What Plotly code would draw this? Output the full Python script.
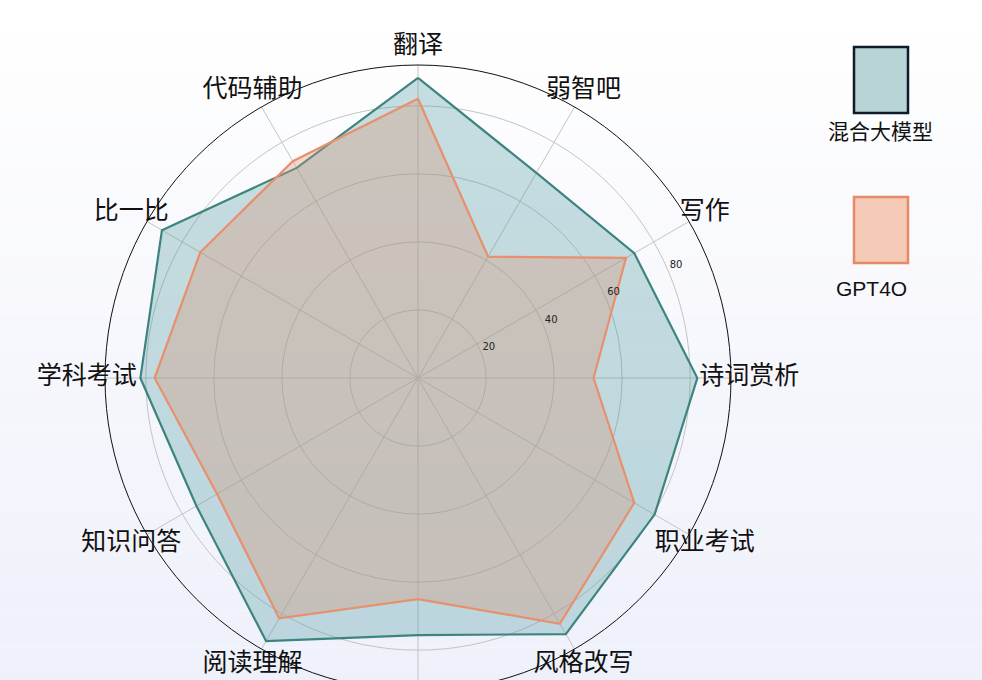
import plotly.graph_objects as go

# categories run clockwise from the top; the bottom one is cut off in the picture
categories = ['翻译', '弱智吧', '写作', '诗词赏析', '职业考试', '风格改写',
              '逻辑推理', '阅读理解', '知识问答', '学科考试', '比一比', '代码辅助']
mixed_model = [88.2, 69.6, 73.4, 82.1, 80.3, 86.9, 75.6, 89.3, 75.2, 81.6, 86.9, 71.3]
gpt4o = [82.1, 41.2, 70.6, 51.6, 73.4, 83.4, 65.0, 81.6, 68.2, 77.4, 73.9, 73.6]
series_names = ['混合大模型', 'GPT4O']
radial_ticks = [20, 40, 60, 80]

W, H = 982, 740
FONT = 'Noto Sans CJK SC'
R_MAX = 92

n = len(categories)
angles = [i * 360 / n for i in range(n)]

cx, cy, rad = 418, 378, 313     # rim of the chart, in pixels
rad_lbl = 350                   # wider, invisible polar that carries the labels


def px_x(x):
    return x / W


def px_y(y):
    return 1 - y / H


def domain(r):
    return dict(x=[px_x(cx - r), px_x(cx + r)], y=[px_y(cy + r), px_y(cy - r)])


fig = go.Figure()

# close the polygons
theta = angles + angles[:1]
fig.add_trace(go.Scatterpolar(
    r=mixed_model + mixed_model[:1], theta=theta,
    fill='toself', fillcolor='rgba(70,150,155,0.3)',
    line=dict(color='#3d847f', width=2.2),
    mode='lines', name=series_names[0], showlegend=False,
))
fig.add_trace(go.Scatterpolar(
    r=gpt4o + gpt4o[:1], theta=theta,
    fill='toself', fillcolor='rgba(215,150,120,0.35)',
    line=dict(color='#e8906c', width=2.2),
    mode='lines', name=series_names[1], showlegend=False,
))
# radial tick labels, upright, at ~23.5 deg above the right spoke
fig.add_trace(go.Scatterpolar(
    r=[v + 2.7 for v in radial_ticks], theta=[66.5] * len(radial_ticks),
    text=[str(v) for v in radial_ticks],
    mode='text', textposition='middle center',
    textfont=dict(family='DejaVu Sans', size=10, color='#222222'),
    hoverinfo='skip', showlegend=False,
))
# category labels, centred a little outside the rim (like matplotlib)
fig.add_trace(go.Scatterpolar(
    r=[R_MAX * 1.058] * n, theta=angles, text=categories,
    mode='text', textposition='middle center', subplot='polar2',
    textfont=dict(family=FONT, size=25, color='#111111'),
    hoverinfo='skip', showlegend=False,
))

# background: soft vertical gradient white -> pale lavender
shapes = []
steps = 40
top, bottom = (255, 255, 255), (237, 239, 250)
for i in range(steps):
    t = i / (steps - 1)
    c = tuple(round(top[k] + (bottom[k] - top[k]) * t) for k in range(3))
    shapes.append(dict(
        type='rect', xref='paper', yref='paper', layer='below',
        x0=0, x1=1, y0=1 - (i + 1) / steps, y1=1 - i / steps,
        fillcolor='rgb(%d,%d,%d)' % c, line=dict(width=0),
    ))

# hand-made legend: swatch with caption underneath
legend_items = [
    (series_names[0], 'rgba(184,212,212,1)', '#0d1b2a', 47, 113, 880, 132),
    (series_names[1], 'rgba(245,203,184,1)', '#e58a66', 197, 263, 871, 288),
]
annotations = []
for name, fill, edge, y0, y1, tx, ty in legend_items:
    shapes.append(dict(
        type='rect', xref='paper', yref='paper',
        x0=px_x(854), x1=px_x(908), y0=px_y(y1), y1=px_y(y0),
        fillcolor=fill, line=dict(color=edge, width=2.5),
    ))
    annotations.append(dict(
        x=px_x(tx), y=px_y(ty), xref='paper', yref='paper',
        text=name, showarrow=False, xanchor='center', yanchor='middle',
        font=dict(family='Liberation Sans, ' + FONT, size=21, color='#111111'),
    ))

fig.update_layout(
    width=W, height=H,
    margin=dict(l=0, r=0, t=0, b=0),
    paper_bgcolor='white',
    font=dict(family=FONT, color='#111111'),
    shapes=shapes,
    annotations=annotations,
    polar=dict(
        domain=domain(rad),
        bgcolor='rgba(0,0,0,0)',
        angularaxis=dict(
            rotation=90, direction='clockwise', thetaunit='degrees',
            tickmode='array', tickvals=angles, showticklabels=False,
            showline=True, linecolor='#111111', linewidth=1,
            gridcolor='#c4c4c4', gridwidth=0.8, ticks='',
        ),
        radialaxis=dict(
            range=[0, R_MAX], angle=22.5,
            tickvals=radial_ticks, showticklabels=False,
            showline=False, ticks='',
            gridcolor='#c4c4c4', gridwidth=0.8,
        ),
    ),
    polar2=dict(
        domain=domain(rad_lbl),
        bgcolor='rgba(0,0,0,0)',
        angularaxis=dict(
            rotation=90, direction='clockwise', thetaunit='degrees',
            showticklabels=False, showgrid=False, showline=False, ticks='',
        ),
        radialaxis=dict(
            range=[0, R_MAX * rad_lbl / rad],
            visible=False, showgrid=False,
        ),
    ),
)

fig.write_html(
    "out.html",
    config={'displayModeBar': False},
    post_script="document.body.style.margin='0';document.body.style.overflow='hidden';",
)
